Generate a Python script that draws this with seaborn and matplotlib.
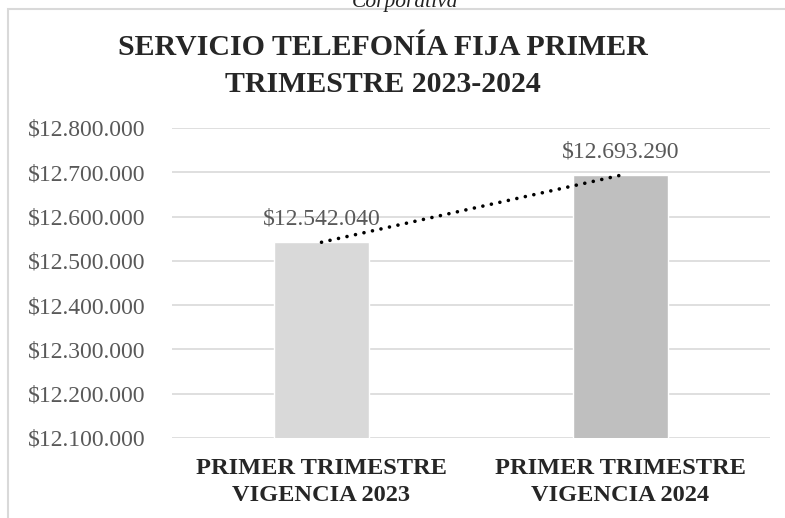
import matplotlib
matplotlib.use("Agg")
import matplotlib.pyplot as plt
import matplotlib.ticker as mticker
from matplotlib.patches import Rectangle
import pandas as pd
import seaborn as sns

# data
categories = ["PRIMER TRIMESTRE\nVIGENCIA 2023", "PRIMER TRIMESTRE\nVIGENCIA 2024"]
values = [12542040, 12693290]
bar_colors = ["#d9d9d9", "#bfbfbf"]

title = "SERVICIO TELEFONÍA FIJA PRIMER\nTRIMESTRE 2023-2024"
y_min, y_max, y_step = 12100000, 12800000, 100000


def peso(v, _=None):
    return "$" + f"{v:,.0f}".replace(",", ".")


df = pd.DataFrame({"cat": categories, "val": values})

sns.set_theme(style="white")
plt.rcParams["font.family"] = ["Liberation Serif", "DejaVu Serif"]

fig = plt.figure(figsize=(7.85, 5.18), dpi=100)
W, H = 785, 518
ax = fig.add_axes([172 / W, 1 - 438 / H, (770 - 172) / W, (438 - 128) / H])

sns.barplot(data=df, x="cat", y="val", hue="cat", palette=bar_colors,
            width=0.315, legend=False, ax=ax, saturation=1)

# linear trend line through the two bars (dotted)
ax.plot([0, 1], values, color="black", lw=2.6, linestyle=(0, (0.01, 2.4)),
        dash_capstyle="round", zorder=4)

for i, v in enumerate(values):
    ax.annotate(peso(v), (i, v), xytext=(0, 9), textcoords="offset points",
                ha="center", va="bottom", fontsize=17, color="#595959")

ax.set_ylim(y_min, y_max)
ax.set_xlim(-0.5, 1.5)
ax.yaxis.set_major_locator(mticker.MultipleLocator(y_step))
ax.yaxis.set_major_formatter(mticker.FuncFormatter(peso))
ax.grid(axis="y", color="#d9d9d9", lw=1.2)
ax.set_axisbelow(True)
for s in ax.spines.values():
    s.set_visible(False)
ax.tick_params(axis="y", length=0, pad=19, labelsize=17, labelcolor="#595959")
ax.tick_params(axis="x", length=0, pad=14.5, labelsize=17.6)
for t in ax.get_xticklabels():
    t.set_fontweight("bold")
    t.set_linespacing(1.35)
ax.set_xlabel("")
ax.set_ylabel("")

fig.text(383 / W, 1 - 66 / H, title, ha="center", va="center",
         fontsize=21.5, fontweight="bold", linespacing=1.45)
fig.text(405 / W, 1 - 7 / H, "Corporativa", ha="center", va="baseline",
         fontsize=15.5, style="italic", color="#222222")

# outer chart frame
fig.add_artist(Rectangle((8 / W, -0.1), 1.2, 1 - 9 / H + 0.1, transform=fig.transFigure,
                         fill=False, edgecolor="#d9d9d9", lw=1.5))

fig.savefig("out.png", dpi=100)
